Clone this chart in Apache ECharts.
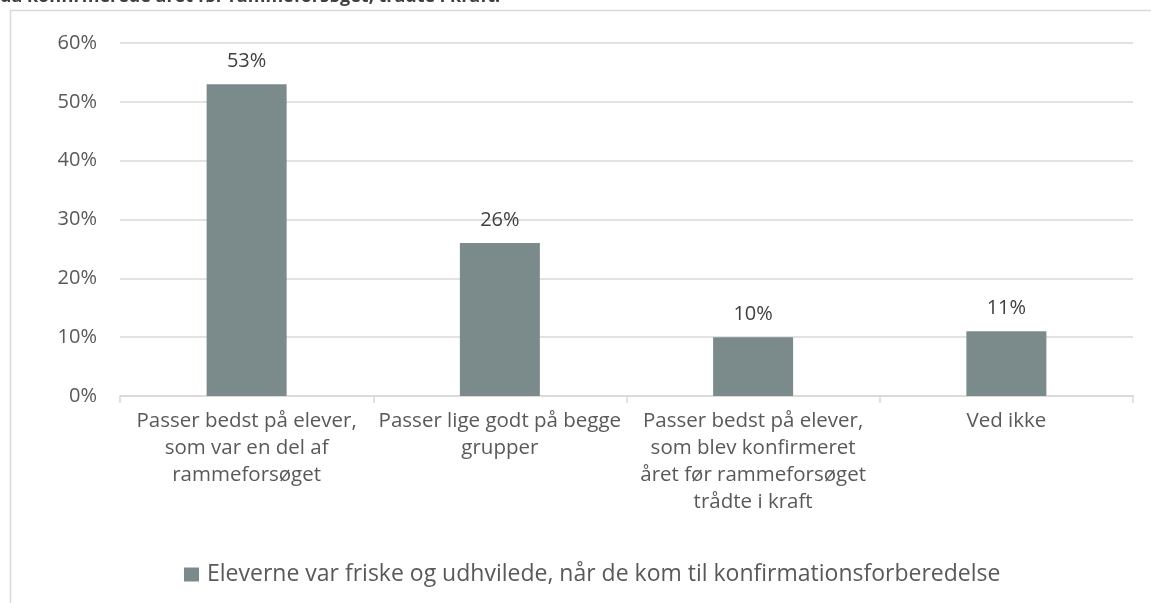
<!DOCTYPE html>
<html>
<head>
<meta charset="utf-8">
<script src="https://cdn.jsdelivr.net/npm/echarts@6/dist/echarts.min.js"></script>
<style>
  html, body { margin: 0; padding: 0; background: #fff; }
  #chart { width: 1151px; height: 603px; }
</style>
</head>
<body>
<div id="chart"></div>
<script>
const categories = [
  'Passer bedst på elever,\nsom var en del af\nrammeforsøget',
  'Passer lige godt på begge\ngrupper',
  'Passer bedst på elever,\nsom blev konfirmeret\nåret før rammeforsøget\ntrådte i kraft',
  'Ved ikke'
];
const seriesName = 'Eleverne var friske og udhvilede, når de kom til konfirmationsforberedelse';
const values = [53, 26, 10, 11];
const titleText = 'da konfirmerede året før rammeforsøget, trådte i kraft.';

const font = "'Open Sans', 'Liberation Sans', sans-serif";
const chart = echarts.init(document.getElementById('chart'));
chart.setOption({
  animation: false,
  textStyle: { fontFamily: font },
  graphic: [
    {
      type: 'rect',
      shape: { x: 10.5, y: 10.5, width: 1160, height: 620 },
      style: { fill: 'none', stroke: '#d9d9d9', lineWidth: 1.5 }
    },
    {
      type: 'text',
      left: 0,
      top: -12,
      style: { text: titleText, font: 'bold 18px ' + font, fill: '#404040' }
    }
  ],
  grid: { left: 120, right: 18, top: 43, bottom: 207, containLabel: false },
  legend: {
    top: 558,
    left: 179,
    itemWidth: 15,
    itemHeight: 14,
    itemGap: 10,
    icon: 'rect',
    textStyle: { fontSize: 23, color: '#595959', fontFamily: font, padding: [0, 0, 0, 3] },
    data: [seriesName]
  },
  xAxis: {
    type: 'category',
    data: categories,
    axisLine: { lineStyle: { color: '#d9d9d9', width: 1.5 } },
    axisTick: { show: true, length: 7, lineStyle: { color: '#d9d9d9', width: 1.5 } },
    axisLabel: { fontSize: 20.5, color: '#595959', lineHeight: 27, margin: 12, interval: 0, fontFamily: font }
  },
  yAxis: {
    type: 'value',
    min: 0,
    max: 60,
    interval: 10,
    axisLine: { show: false },
    axisTick: { show: false },
    splitLine: { lineStyle: { color: '#d9d9d9', width: 1.5 } },
    axisLabel: { formatter: '{value}%', fontSize: 20, color: '#595959', margin: 23, fontFamily: font }
  },
  series: [{
    name: seriesName,
    type: 'bar',
    data: values,
    barWidth: 80,
    itemStyle: { color: '#7b8b8c' },
    label: {
      show: true,
      position: 'top',
      distance: 13,
      formatter: '{c}%',
      fontSize: 20,
      color: '#404040',
      fontFamily: font
    }
  }]
});
</script>
</body>
</html>
